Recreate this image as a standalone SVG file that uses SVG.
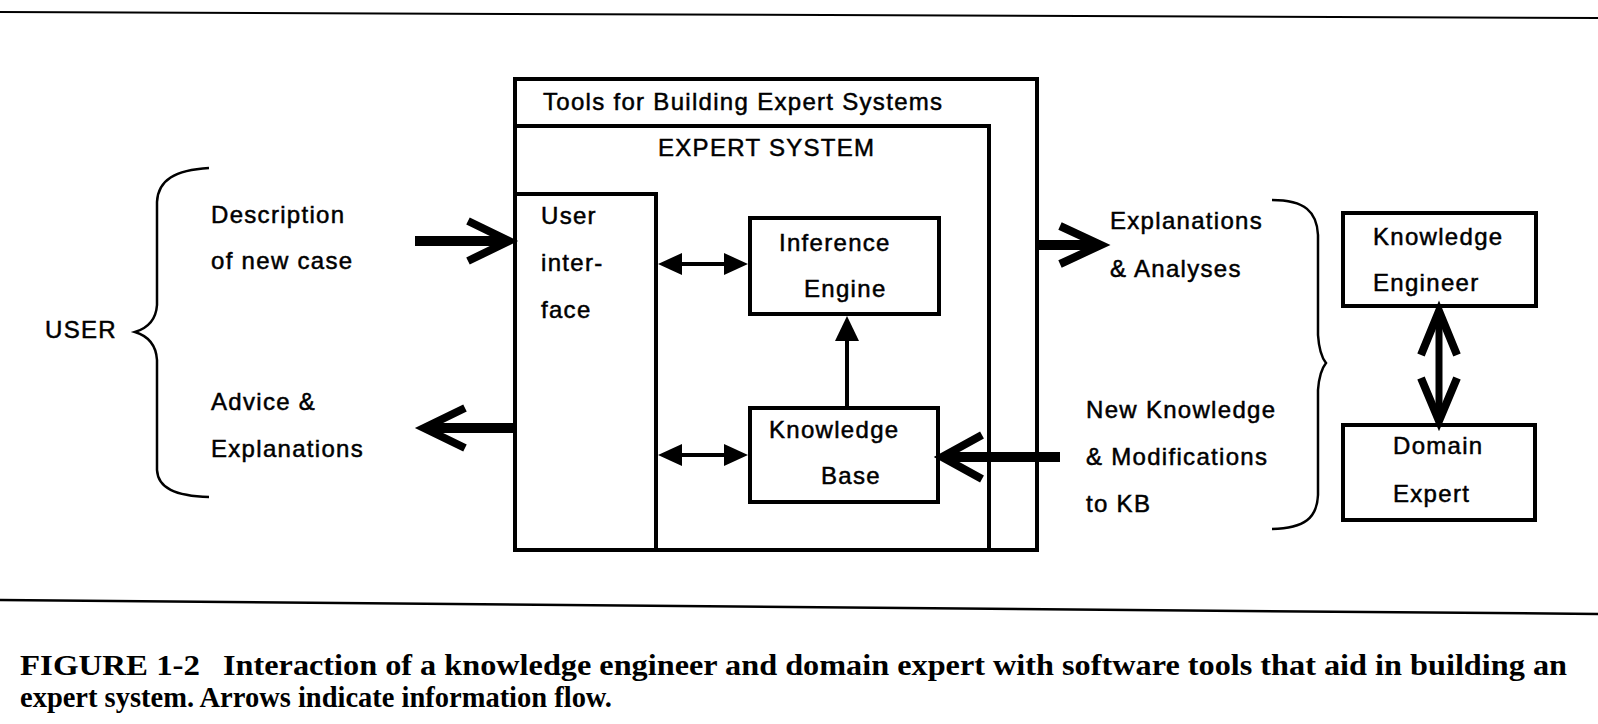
<svg xmlns="http://www.w3.org/2000/svg" width="1598" height="724" viewBox="0 0 1598 724">
<style>
.box{fill:none;stroke:#000;stroke-width:4}
.t{font-family:"Liberation Sans",Arial,sans-serif;font-size:24px;letter-spacing:1.3px;fill:#000;stroke:#000;stroke-width:0.5}
.cap{font-family:"Liberation Serif","Times New Roman",serif;font-size:29px;font-weight:bold;fill:#000}
.shaft{stroke:#000;fill:none}
.chev{fill:none;stroke:#000;stroke-width:8;stroke-linejoin:miter;stroke-miterlimit:10}
.brace{fill:none;stroke:#000;stroke-width:2.5}
.tri{fill:#000}
</style>
<rect width="1598" height="724" fill="#fff"/>
<line x1="0" y1="12" x2="1598" y2="18" stroke="#000" stroke-width="2"/>
<line x1="0" y1="600" x2="1598" y2="614" stroke="#000" stroke-width="2.5"/>

<g id="tools">
<rect class="box" x="515" y="79" width="522" height="471"/>
<text class="t" x="543" y="110">Tools for Building Expert Systems</text>
</g>
<g id="expert-system">
<rect class="box" x="515" y="126" width="474" height="424"/>
<text class="t" x="658" y="156">EXPERT SYSTEM</text>
</g>
<g id="user-interface">
<rect class="box" x="515" y="194" width="141" height="356"/>
<text class="t" x="541" y="224">User</text>
<text class="t" x="541" y="271">inter-</text>
<text class="t" x="541" y="318">face</text>
</g>
<g id="inference-engine">
<rect class="box" x="750" y="218" width="189" height="96"/>
<text class="t" x="779" y="251">Inference</text>
<text class="t" x="804" y="297">Engine</text>
</g>
<g id="knowledge-base">
<rect class="box" x="750" y="408" width="188" height="94"/>
<text class="t" x="769" y="438">Knowledge</text>
<text class="t" x="821" y="484">Base</text>
</g>
<g id="knowledge-engineer">
<rect class="box" x="1343" y="213" width="193" height="93"/>
<text class="t" x="1373" y="245">Knowledge</text>
<text class="t" x="1373" y="291">Engineer</text>
</g>
<g id="domain-expert">
<rect class="box" x="1343" y="425" width="192" height="95"/>
<text class="t" x="1393" y="454">Domain</text>
<text class="t" x="1393" y="502">Expert</text>
</g>
<g id="user">
<text class="t" x="45" y="338">USER</text>
<path class="brace" d="M209,168 C175,170 158,180 157,202 L157,305 C156,320 148,328 135,332 C148,336 156,344 157,360 L157,470 C158,488 175,496 209,497"/>
<text class="t" x="211" y="223">Description</text>
<text class="t" x="211" y="269">of new case</text>
<text class="t" x="211" y="410">Advice &amp;</text>
<text class="t" x="211" y="457">Explanations</text>
</g>
<g id="right-labels">
<text class="t" x="1110" y="229">Explanations</text>
<text class="t" x="1110" y="277">&amp; Analyses</text>
<text class="t" x="1086" y="418">New Knowledge</text>
<text class="t" x="1086" y="465">&amp; Modifications</text>
<text class="t" x="1086" y="512">to KB</text>
<path class="brace" d="M1272,200 C1305,200 1317,212 1318,235 L1318,335 C1319,350 1322,358 1326,363 C1322,368 1319,376 1318,390 L1318,495 C1317,518 1305,528 1272,529"/>
</g>

<g id="connectors">
<line class="shaft" x1="415" y1="241" x2="505" y2="241" stroke-width="10"/>
<polyline class="chev" points="468,221 509,241 468,261"/>
<line class="shaft" x1="513" y1="428" x2="428" y2="428" stroke-width="10"/>
<polyline class="chev" points="465,408 424,428 465,448"/>
<line class="shaft" x1="1037" y1="245" x2="1098" y2="245" stroke-width="10"/>
<polyline class="chev" points="1060,226 1101,245 1060,264"/>
<line class="shaft" x1="1060" y1="457" x2="946" y2="457" stroke-width="10"/>
<polyline class="chev" points="982,435 942,457 982,479"/>
<line class="shaft" x1="670" y1="264" x2="736" y2="264" stroke-width="4"/>
<polygon class="tri" points="658,264 682,253 682,275"/>
<polygon class="tri" points="748,264 724,253 724,275"/>
<line class="shaft" x1="670" y1="455" x2="736" y2="455" stroke-width="4"/>
<polygon class="tri" points="658,455 682,444 682,466"/>
<polygon class="tri" points="748,455 724,444 724,466"/>
<line class="shaft" x1="847" y1="408" x2="847" y2="330" stroke-width="4"/>
<polygon class="tri" points="847,316 835,341 859,341"/>
<line class="shaft" x1="1439" y1="312" x2="1439" y2="419" stroke-width="7"/>
<polyline class="chev" points="1421,355 1439,311 1457,355"/>
<polyline class="chev" points="1421,378 1439,421 1457,378"/>
</g>

<g id="caption">
<text class="cap" x="20" y="675" textLength="180" lengthAdjust="spacingAndGlyphs">FIGURE 1-2</text>
<text class="cap" x="223" y="675" textLength="1344" lengthAdjust="spacingAndGlyphs">Interaction of a knowledge engineer and domain expert with software tools that aid in building an</text>
<text class="cap" x="20" y="707" textLength="592" lengthAdjust="spacingAndGlyphs">expert system. Arrows indicate information flow.</text>
</g>
</svg>
